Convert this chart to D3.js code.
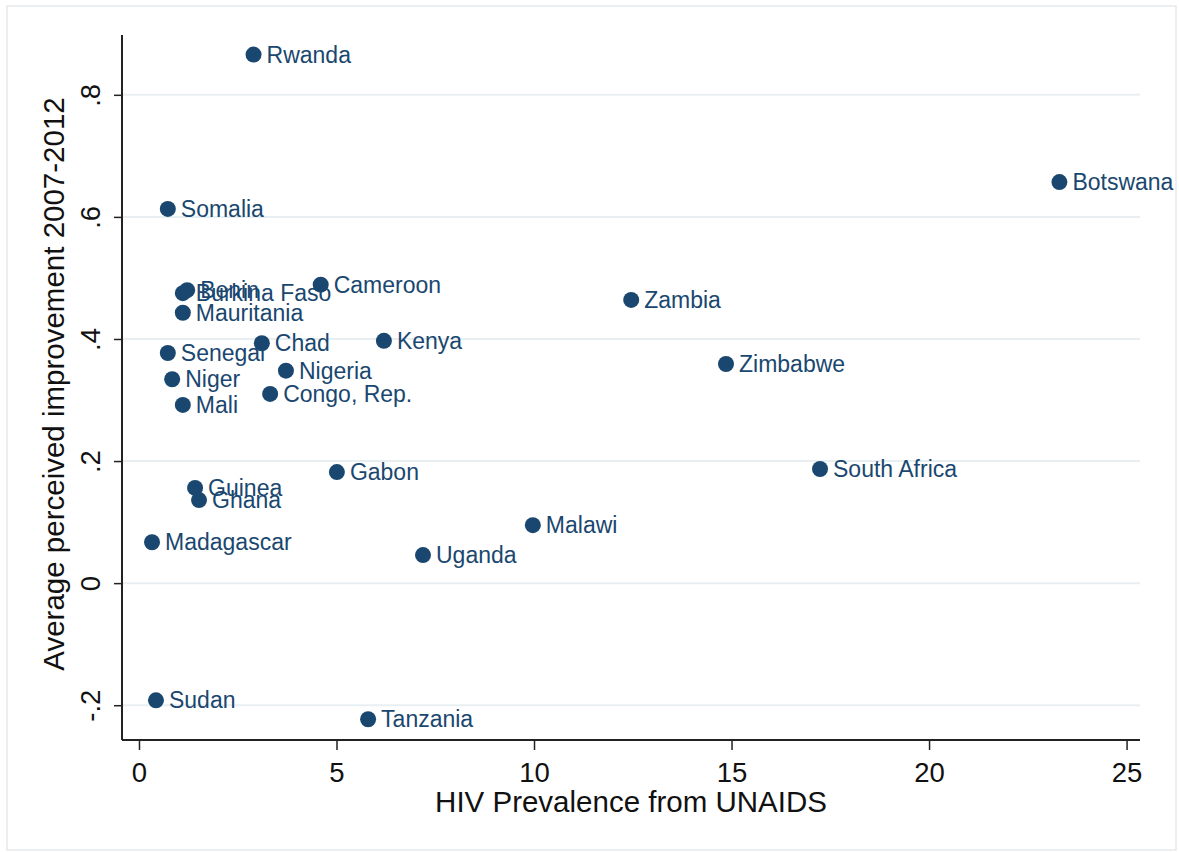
<!DOCTYPE html>
<html lang="en">
  <head>
    <meta charset="UTF-8" />
    <title>HIV prevalence vs perceived improvement</title>
    <script src="https://d3js.org/d3.v7.min.js"></script>
    <style>
      body {
        margin: 0;
        background: #ffffff;
      }
      svg text {
        font-family: "Liberation Sans", Arial, Helvetica, sans-serif;
      }
    </style>
  </head>
  <body>
    <svg width="1179" height="852"></svg>

    <script>
      // data
      const countries = [
        "Rwanda", "Somalia", "Botswana", "Benin", "Burkina Faso", "Cameroon",
        "Zambia", "Mauritania", "Chad", "Kenya", "Senegal", "Zimbabwe",
        "Nigeria", "Niger", "Congo, Rep.", "Mali", "Gabon", "South Africa",
        "Guinea", "Ghana", "Malawi", "Madagascar", "Uganda", "Sudan", "Tanzania"
      ];
      const hivPrevalence = [
        2.9, 0.73, 23.3, 1.22, 1.11, 4.6,
        12.46, 1.11, 3.11, 6.2, 0.73, 14.86,
        3.72, 0.84, 3.32, 1.11, 5.01, 17.24,
        1.42, 1.52, 9.97, 0.33, 7.19, 0.43, 5.8
      ];
      const improvement = [
        0.866, 0.613, 0.657, 0.480, 0.475, 0.489,
        0.464, 0.443, 0.393, 0.397, 0.377, 0.359,
        0.348, 0.334, 0.310, 0.292, 0.182, 0.187,
        0.156, 0.136, 0.095, 0.067, 0.046, -0.192, -0.223
      ];
      const xTicks = [0, 5, 10, 15, 20, 25];
      const yTicks = [-0.2, 0, 0.2, 0.4, 0.6, 0.8];
      const yTickLabels = ["-.2", "0", ".2", ".4", ".6", ".8"];

      const navy = "#1a476f";
      const svg = d3.select("svg");

      // outer frame
      svg.append("rect")
        .attr("x", 7).attr("y", 6)
        .attr("width", 1169).attr("height", 844)
        .attr("fill", "#ffffff")
        .attr("stroke", "#e6eaee")
        .attr("stroke-width", 1.5);

      const plotLeft = 122, plotRight = 1140, plotTop = 35, plotBottom = 740;

      const x = d3.scaleLinear().domain([-0.43, 25.34]).range([plotLeft, plotRight]);
      const y = d3.scaleLinear().domain([-0.257, 0.898]).range([plotBottom, plotTop]);

      // grid lines
      svg.append("g")
        .selectAll("line")
        .data(yTicks)
        .enter()
        .append("line")
        .attr("x1", plotLeft).attr("x2", plotRight)
        .attr("y1", d => y(d)).attr("y2", d => y(d))
        .attr("stroke", "#e8eff2")
        .attr("stroke-width", 2);

      // x axis
      const xAxis = svg.append("g")
        .attr("transform", `translate(0,${plotBottom})`)
        .call(d3.axisBottom(x).tickValues(xTicks).tickSize(10).tickPadding(12).tickFormat(d3.format("d")));
      xAxis.select(".domain")
        .attr("d", `M${plotLeft},0H${plotRight}`)
        .attr("stroke", "#222")
        .attr("stroke-width", 2);
      xAxis.selectAll(".tick line").attr("stroke", "#222").attr("stroke-width", 1.5);
      xAxis.selectAll(".tick text")
        .attr("font-size", 27.5)
        .attr("fill", "#111")
        .attr("font-family", "Liberation Sans, Arial, sans-serif");

      // y axis
      const yAxis = svg.append("g")
        .attr("transform", `translate(${plotLeft},0)`)
        .call(d3.axisLeft(y).tickValues(yTicks).tickSize(8)
          .tickFormat((d, i) => yTickLabels[i]));
      yAxis.select(".domain")
        .attr("d", `M0,${plotTop}V${plotBottom}`)
        .attr("stroke", "#222")
        .attr("stroke-width", 2);
      yAxis.selectAll(".tick line").attr("stroke", "#222").attr("stroke-width", 1.5);
      yAxis.selectAll(".tick text")
        .attr("font-size", 27.5)
        .attr("fill", "#111")
        .attr("font-family", "Liberation Sans, Arial, sans-serif")
        .attr("x", null)
        .attr("dy", null)
        .attr("text-anchor", "middle")
        .attr("transform", "translate(-22,0) rotate(-90)");

      // axis titles
      svg.append("text")
        .attr("x", 631)
        .attr("y", 812)
        .attr("text-anchor", "middle")
        .attr("font-size", 29.5)
        .attr("fill", "#111")
        .text("HIV Prevalence from UNAIDS");

      svg.append("text")
        .attr("transform", "translate(64,384) rotate(-90)")
        .attr("text-anchor", "middle")
        .attr("font-size", 29.5)
        .attr("fill", "#111")
        .text("Average perceived improvement 2007-2012");

      // points and labels
      const idx = d3.range(countries.length);
      const pts = svg.append("g");
      pts.selectAll("circle")
        .data(idx)
        .enter()
        .append("circle")
        .attr("cx", i => x(hivPrevalence[i]))
        .attr("cy", i => y(improvement[i]))
        .attr("r", 8)
        .attr("fill", navy);

      pts.selectAll("text")
        .data(idx)
        .enter()
        .append("text")
        .attr("x", i => x(hivPrevalence[i]) + 13)
        .attr("y", i => y(improvement[i]) + 8)
        .attr("font-size", 23)
        .attr("fill", navy)
        .text(i => countries[i]);
    </script>
  </body>
</html>
